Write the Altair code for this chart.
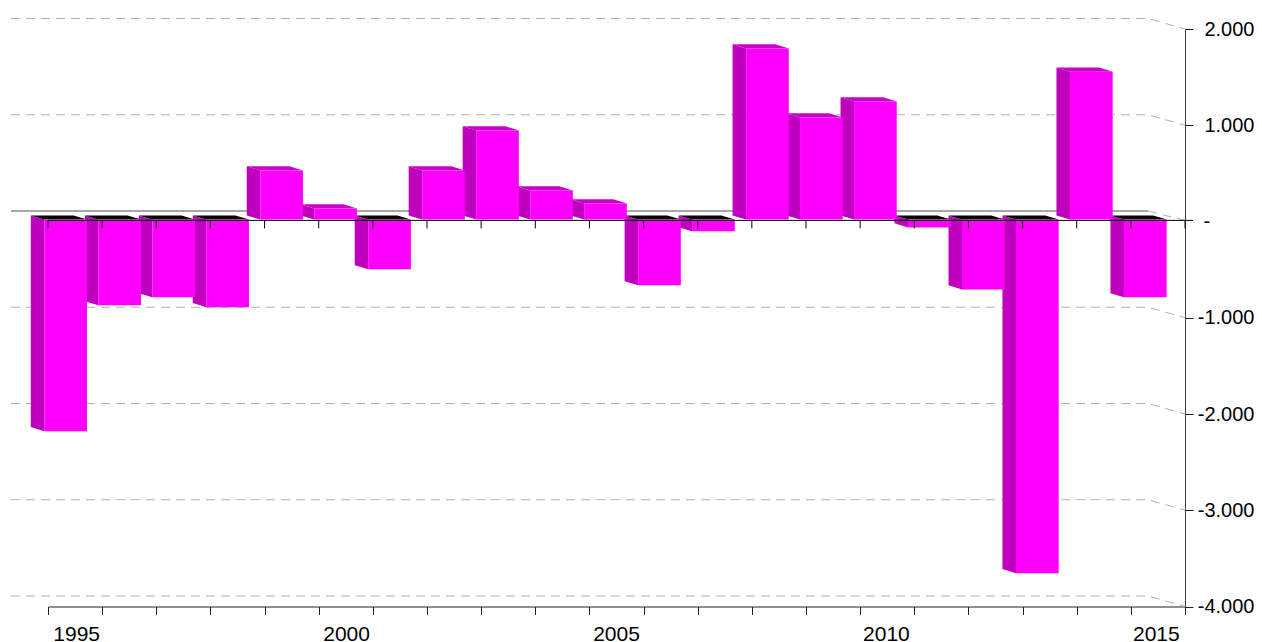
import altair as alt
import pandas as pd

years = list(range(1995, 2016))
values = [-2199, -891, -808, -911, 511, 116, -517, 511, 926, 303, 168, -683, -122,
          1777, 1061, 1227, -81, -725, -3674, 1537, -808]
grid_values = [2000, 1000, -1000, -2000, -3000, -4000]
tick_positions = list(range(0, 22))
year_labels = ["1995", "2000", "2005", "2010", "2015"]

PX_X = 1 / 54.14      # band units per pixel
PX_Y = 6000 / 577.5   # value units per pixel
FRONT_L, FRONT_R = -3.7 * PX_X, 39 * PX_X
STEP = 53.98 / 54.14
BASE = 1.9 * PX_Y
DX, DY = -13.5 * PX_X, 4.2 * PX_Y
WALL_X, WALL_Y = -37 * PX_X, 10.5 * PX_Y
ZERO = 1.1 * PX_Y

front, side, top = [], [], []
for i, v in enumerate(values):
    x0, x1 = i * STEP + FRONT_L, i * STEP + FRONT_R
    front.append(dict(x=x0, x2=x1, y=BASE, y2=BASE + v))
    high = BASE + max(v, 0)
    low = BASE + min(v, 0)
    side += [dict(i=i, x=x0 + DX, y=high + DY, y2=low + DY),
             dict(i=i, x=x0, y=high, y2=low)]
    kind = "neg" if v < 0 else "pos"
    top += [dict(i=i, kind=kind, y=high, x=x0, x2=x1),
            dict(i=i, kind=kind, y=high + DY, x=x0 + DX, x2=x1 + DX)]

wall = []
for g in grid_values:
    wall += [dict(g=g, x=WALL_X, y=g + WALL_Y), dict(g=g, x=21 + WALL_X, y=g + WALL_Y), dict(g=g, x=21, y=g)]
zero_wall = [dict(x=WALL_X, y=WALL_Y), dict(x=21 + WALL_X, y=WALL_Y)]
zero_slant = [dict(x=21 + WALL_X, y=WALL_Y), dict(x=21, y=ZERO)]
tick_df = pd.DataFrame(dict(x=tick_positions, y=[ZERO] * 22, y2=[ZERO - 8.0 * PX_Y] * 22))
label_df = pd.DataFrame(dict(x=[0.53 + 5 * k * STEP for k in range(5)], y=[-4000] * 5, t=year_labels))

xs = alt.Scale(domain=[0, 21], nice=False, zero=False)
ys = alt.Scale(domain=[-4000, 2000], nice=False, zero=False)
FONT = "Liberation Sans"

xq = alt.X("x:Q", scale=xs, title=None)
yq = alt.Y("y:Q", scale=ys, title=None, stack=None)

base_axes = alt.Chart(pd.DataFrame(dict(x=[0.0], y=[0.0]))).mark_point(opacity=0).encode(
    x=alt.X("x:Q", scale=xs, title=None, axis=alt.Axis(
        orient="bottom", values=tick_positions, grid=False, tickSize=8, tickColor="#202020",
        domainColor="#202020", labels=False)),
    y=alt.Y("y:Q", scale=ys, title=None, axis=alt.Axis(
        orient="right", values=[2000, 1000, 0, -1000, -2000, -3000, -4000], grid=False, tickSize=8,
        tickColor="#202020", domainColor="#404040", labelFont=FONT, labelFontSize=20, labelColor="#000000",
        tickOpacity={"condition": {"test": "datum.value == 0", "value": 0}, "value": 1},
        labelAlign="right", labelPadding=61, labelOverlap=False, labelBound=False, labelFlush=False,
        labelExpr="datum.value == 0 ? '-\u00a0\u00a0\u00a0\u00a0\u00a0\u00a0\u00a0\u00a0\u200b' : (datum.value < 0 ? '-' : '') + replace(format(abs(datum.value), ',d'), ',', '.')")),
)

grid = alt.Chart(pd.DataFrame(wall)).mark_line(color="#b0b0b0", strokeWidth=1, strokeDash=[9, 6]).encode(
    x=xq, y=yq, detail="g:N", order=alt.Order("x:Q"))
zw = alt.Chart(pd.DataFrame(zero_wall)).mark_line(color="#505050", strokeWidth=1.2).encode(x=xq, y=yq)
zs = alt.Chart(pd.DataFrame(zero_slant)).mark_line(color="#b0b0b0", strokeWidth=1, strokeDash=[9, 6]).encode(x=xq, y=yq)

sides = alt.Chart(pd.DataFrame(side)).mark_area(orient="vertical", color="#bf00bf", opacity=1).encode(
    x=xq, y=yq, y2="y2:Q", detail="i:N")
tops = alt.Chart(pd.DataFrame(top)).mark_area(orient="horizontal", opacity=1).encode(
    y=alt.Y("y:Q", scale=ys, title=None), x=alt.X("x:Q", scale=xs, title=None, stack=None), x2="x2:Q", detail="i:N",
    color=alt.Color("kind:N", scale=alt.Scale(domain=["neg", "pos"], range=["#000000", "#c800c8"]), legend=None))
fronts = alt.Chart(pd.DataFrame(front)).mark_rect(color="#ff00ff", opacity=1).encode(
    x=xq, x2="x2:Q", y=yq, y2="y2:Q")

zero_axis = alt.Chart(pd.DataFrame(dict(x=[0], x2=[21 + 8 * PX_X], y=[ZERO]))).mark_rule(color="#000000", strokeWidth=1).encode(
    x=xq, x2="x2:Q", y=yq)
zero_ticks = alt.Chart(tick_df).mark_rule(color="#000000", strokeWidth=1).encode(x=xq, y=yq, y2="y2:Q")
year_text = alt.Chart(label_df).mark_text(font=FONT, fontSize=21, color="#000000", baseline="alphabetic", dy=34).encode(
    x=xq, y=yq, text="t:N")

chart = alt.layer(base_axes, grid, zw, zs, sides, tops, fronts, zero_axis, zero_ticks, year_text).properties(
    width=1137, height=577.5,
    padding=dict(left=40, top=21, right=69, bottom=40),
    autosize=alt.AutoSizeParams(type="none"),
).configure_view(stroke=None)

chart.save("out.html", embed_options={"renderer": "svg", "actions": False})
